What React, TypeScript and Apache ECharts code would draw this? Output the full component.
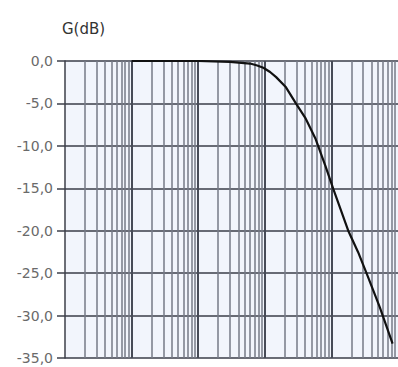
import React, { useEffect, useRef } from "react";
import * as echarts from "echarts";

// Frequency response (log frequency, gain in dB)
const freq = [10, 100, 300, 600, 750, 950, 1200, 1480, 2080, 2930, 4120, 5800, 8150, 10700, 17900, 25100, 35300, 53200, 82900];
const gain = [0, 0, -0.1, -0.3, -0.5, -0.8, -1.3, -1.9, -3.1, -5.0, -6.8, -9.2, -12.4, -15.1, -20.0, -22.5, -25.4, -29.0, -33.3];

// Axis extents / ticks
const yTicks = [0, -5, -10, -15, -20, -25, -30, -35];
const decades = [1, 10, 100, 1000, 10000];
const minorMult = [2, 3, 4, 5, 6, 7, 8, 9];

export default function App() {
  const ref = useRef<HTMLDivElement>(null);
  useEffect(() => {
    if (!ref.current) return;
    const chart = echarts.init(ref.current, undefined, { renderer: "svg" });
    const minorLines = decades.flatMap((d) => minorMult.map((m) => m * d));
    const majorLines = decades.slice(1);
    chart.setOption({
      animation: false,
      backgroundColor: "#ffffff",
      title: {
        text: "G(dB)",
        left: 57,
        top: 16,
        textStyle: { fontSize: 15, fontWeight: "normal", color: "#333", fontFamily: "DejaVu Sans" },
      },
      grid: {
        left: 65,
        top: 61,
        width: 338,
        height: 297,
        show: true,
        backgroundColor: "#f2f5fc",
        borderWidth: 0,
      },
      xAxis: {
        type: "log",
        logBase: 10,
        min: 1,
        max: 100000,
        axisLine: { show: false },
        axisTick: { show: false },
        axisLabel: { show: false },
        splitLine: { show: false },
      },
      yAxis: {
        type: "value",
        min: yTicks[yTicks.length - 1],
        max: yTicks[0],
        interval: 5,
        axisLine: { show: true, lineStyle: { color: "#3c3f4a", width: 1.5 } },
        axisTick: { show: true, length: 8, lineStyle: { color: "#3c3f4a", width: 1.5 } },
        axisLabel: {
          margin: 12,
          color: "#6a6a6a",
          fontSize: 14,
          fontFamily: "DejaVu Sans",
          formatter: (v: number) => v.toFixed(1).replace(".", ","),
        },
        splitLine: { show: true, lineStyle: { color: "#3a3d48", width: 1.5 } },
      },
      series: [
        {
          type: "line",
          data: [],
          silent: true,
          markLine: {
            silent: true,
            symbol: "none",
            label: { show: false },
            lineStyle: { color: "#767a87", width: 1.5, type: "solid" },
            data: minorLines.map((v) => ({ xAxis: v })),
          },
        },
        {
          type: "line",
          data: [],
          silent: true,
          markLine: {
            silent: true,
            symbol: "none",
            label: { show: false },
            lineStyle: { color: "#474b57", width: 2, type: "solid" },
            data: majorLines.map((v) => ({ xAxis: v })),
          },
        },
        {
          type: "line",
          data: freq.map((f, i) => [f, gain[i]]),
          showSymbol: false,
          smooth: false,
          lineStyle: { color: "#111", width: 2.2 },
          z: 5,
        },
      ],
    });
    return () => chart.dispose();
  }, []);
  return (
    <div
      ref={ref}
      style={{ position: "fixed", left: 0, top: 0, width: 398, height: 367 }}
    />
  );
}
